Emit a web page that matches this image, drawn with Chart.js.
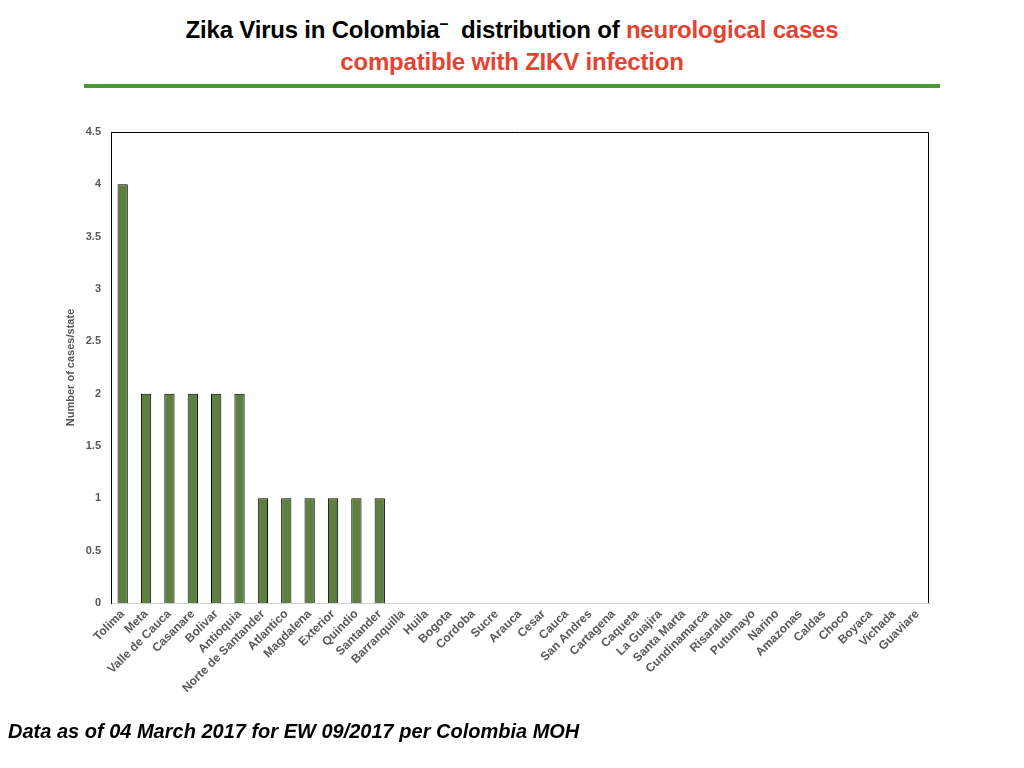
<!DOCTYPE html>
<html>
<head>
<meta charset="utf-8">
<script src="https://cdn.jsdelivr.net/npm/chart.js@4/dist/chart.umd.min.js"></script>
<style>
  body { margin: 0; background: #fff; width: 1024px; height: 768px; overflow: hidden; position: relative; font-family: "Liberation Sans", Arial, sans-serif; }
  #title { position: absolute; top: 8px; left: 0; width: 1024px; text-align: center; font-weight: bold; font-size: 24px; line-height: 32px; color: #000; letter-spacing: -0.2px; }
  #title .red { color: #e5432f; }
  #rule { position: absolute; top: 84px; left: 84px; width: 856px; height: 4px; background: #4a9a36; }
  #footer { position: absolute; top: 720px; left: 8px; font-weight: bold; font-style: italic; font-size: 20px; color: #000; letter-spacing: 0px; }
  #wrap { position: absolute; left: 0; top: 0; width: 1024px; height: 768px; }
</style>
</head>
<body>
<div id="title">Zika Virus in Colombia<sup style="font-size:16px">&#8211;</sup>&nbsp; distribution of <span class="red">neurological cases</span><br><span class="red">compatible with ZIKV infection</span></div>
<div id="rule"></div>
<div id="wrap"><canvas id="chart"></canvas></div>
<div id="footer">Data as of 04 March 2017 for EW 09/2017 per Colombia MOH</div>
<script>
// departamentos
const states = ["Tolima", "Meta", "Valle de Cauca", "Casanare", "Bolivar", "Antioquia",
  "Norte de Santander", "Atlantico", "Magdalena", "Exterior", "Quindio", "Santander",
  "Barranquilla", "Huila", "Bogota", "Cordoba", "Sucre", "Arauca", "Cesar", "Cauca",
  "San Andres", "Cartagena", "Caqueta", "La Guajira", "Santa Marta", "Cundinamarca",
  "Risaralda", "Putumayo", "Narino", "Amazonas", "Caldas", "Choco", "Boyaca", "Vichada", "Guaviare"];

// aantal gevallen per staat
const cases = [4, 2, 2, 2, 2, 2, 1, 1, 1, 1, 1, 1,
  0, 0, 0, 0, 0, 0, 0, 0, 0, 0, 0, 0, 0, 0, 0, 0, 0, 0, 0, 0, 0, 0, 0];

const yMax = 4.5;
const yStep = 0.5;

// zwarte rand boven en rechts van het plotgebied
const frame = {
  id: "frame",
  afterDraw(chart) {
    const a = chart.chartArea;
    const c = chart.ctx;
    c.save();
    c.strokeStyle = "#000";
    c.lineWidth = 1;
    c.beginPath();
    c.moveTo(a.left, a.top + 0.5);
    c.lineTo(a.right - 0.5, a.top + 0.5);
    c.lineTo(a.right - 0.5, a.bottom);
    c.stroke();
    c.restore();
  }
};

const tickFont = { family: "'Liberation Sans', Arial, sans-serif", size: 11, weight: "bold" };
const xFont = { family: "'Liberation Sans', Arial, sans-serif", size: 12, weight: "bold" };

new Chart(document.getElementById("chart"), {
  type: "bar",
  data: {
    labels: states,
    datasets: [{
      data: cases,
      backgroundColor: "#5e7f42",
      borderColor: "#000",
      borderWidth: 1,
      barPercentage: 0.44,
      categoryPercentage: 1
    }]
  },
  options: {
    responsive: true,
    maintainAspectRatio: false,
    animation: false,
    layout: { padding: { top: 132, right: 95, left: 62, bottom: 50 } },
    plugins: { legend: { display: false }, tooltip: { enabled: false } },
    scales: {
      x: {
        grid: { display: false, drawTicks: false },
        border: { color: "#d0d0d0", width: 1 },
        ticks: { color: "#595959", font: xFont, minRotation: 45, maxRotation: 45, autoSkip: false, padding: 4 },
        afterFit(scale) { scale.height = 115; }
      },
      y: {
        min: 0,
        max: yMax,
        grid: { display: false, drawTicks: false },
        border: { color: "#000", width: 1 },
        ticks: { stepSize: yStep, color: "#595959", font: tickFont, padding: 10, callback: v => String(v) },
        title: { display: true, text: "Number of cases/state", color: "#595959", font: tickFont, padding: 2 },
        afterFit(scale) { scale.width = 49; }
      }
    }
  },
  plugins: [frame]
});
</script>
</body>
</html>
